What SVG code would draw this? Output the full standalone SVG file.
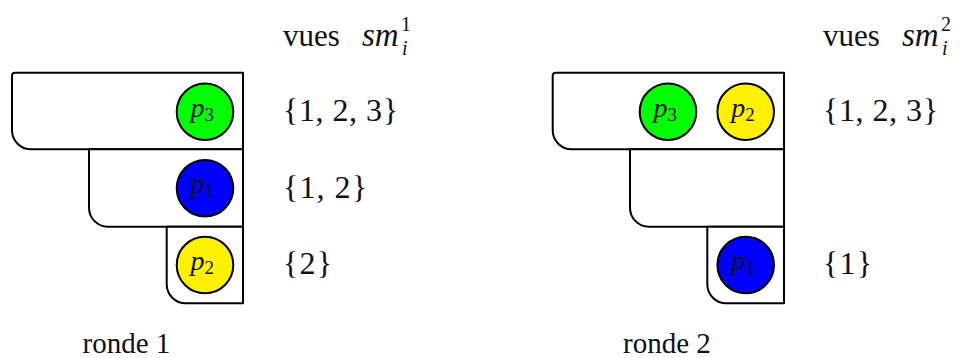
<svg xmlns="http://www.w3.org/2000/svg" width="960" height="358" viewBox="0 0 960 358">
<style>
.box{fill:#fff;stroke:#000;stroke-width:2;stroke-linejoin:round}
.proc{stroke:#000;stroke-width:2}
.g{fill:#00ff00}.b{fill:#0000ff}.y{fill:#fff100}
.t{font-family:"Liberation Serif","Times New Roman",serif;fill:#111}
.big{font-size:31px}
.set{font-size:32px}
.lab{font-size:28px}
.it{font-style:italic}
.sub{font-size:19px}
.math{font-size:33px;font-style:italic}
.sc{font-size:20px}
</style>
<rect width="960" height="358" fill="#fff"/>

<g id="round1">
<g id="r1-level1">
<path class="box" d="M15 72.7 H243 V149.3 H31 A19 19 0 0 1 12 130.3 V75.7 A3 3 0 0 1 15 72.7 Z"/>
<circle class="proc g" cx="205" cy="111.7" r="28.3"/>
<text class="t lab" x="190.5" y="116.5"><tspan class="it">p</tspan><tspan class="sub" dy="4">3</tspan></text>
</g>
<g id="r1-level2">
<path class="box" d="M89 149.3 H243 V226.7 H108 A19 19 0 0 1 89 207.7 Z"/>
<circle class="proc b" cx="205" cy="188.3" r="28.3"/>
<text class="t lab" x="190.5" y="193.1"><tspan class="it">p</tspan><tspan class="sub" dy="4">1</tspan></text>
</g>
<g id="r1-level3">
<path class="box" d="M166.7 226.7 H243 V303.3 H185.7 A19 19 0 0 1 166.7 284.3 Z"/>
<circle class="proc y" cx="205" cy="265" r="28.3"/>
<text class="t lab" x="190.5" y="269.8"><tspan class="it">p</tspan><tspan class="sub" dy="4">2</tspan></text>
</g>
<g id="r1-views">
<text class="t big" x="283" y="46">vues</text>
<text class="t math" x="362" y="46">sm</text>
<text class="t sc" x="401" y="31">1</text>
<text class="t sc it" x="402" y="55">i</text>
<text class="t set" x="283" y="121" textLength="115">{1, 2, 3}</text>
<text class="t set" x="283" y="198" textLength="84">{1, 2}</text>
<text class="t set" x="283" y="274" textLength="49">{2}</text>
</g>
<text id="r1-title" class="t" x="82.5" y="353" font-size="29">ronde 1</text>
</g>

<g id="round2">
<g id="r2-level1">
<path class="box" d="M555.7 72.7 H784 V149.3 H571.7 A19 19 0 0 1 552.7 130.3 V75.7 A3 3 0 0 1 555.7 72.7 Z"/>
<circle class="proc g" cx="668" cy="111.7" r="28.3"/>
<text class="t lab" x="653.5" y="116.5"><tspan class="it">p</tspan><tspan class="sub" dy="4">3</tspan></text>
<circle class="proc y" cx="745.7" cy="111.7" r="28.3"/>
<text class="t lab" x="731.2" y="116.5"><tspan class="it">p</tspan><tspan class="sub" dy="4">2</tspan></text>
</g>
<g id="r2-level2">
<path class="box" d="M630 149.3 H784 V226.7 H649 A19 19 0 0 1 630 207.7 Z"/>
</g>
<g id="r2-level3">
<path class="box" d="M707.3 226.7 H784 V303.3 H726.3 A19 19 0 0 1 707.3 284.3 Z"/>
<circle class="proc b" cx="745.7" cy="265" r="28.3"/>
<text class="t lab" x="731.2" y="269.8"><tspan class="it">p</tspan><tspan class="sub" dy="4">1</tspan></text>
</g>
<g id="r2-views">
<text class="t big" x="823" y="46">vues</text>
<text class="t math" x="902" y="46">sm</text>
<text class="t sc" x="941" y="31">2</text>
<text class="t sc it" x="942" y="55">i</text>
<text class="t set" x="823" y="121" textLength="115">{1, 2, 3}</text>
<text class="t set" x="823" y="274" textLength="49">{1}</text>
</g>
<text id="r2-title" class="t" x="623" y="353" font-size="29">ronde 2</text>
</g>
</svg>
